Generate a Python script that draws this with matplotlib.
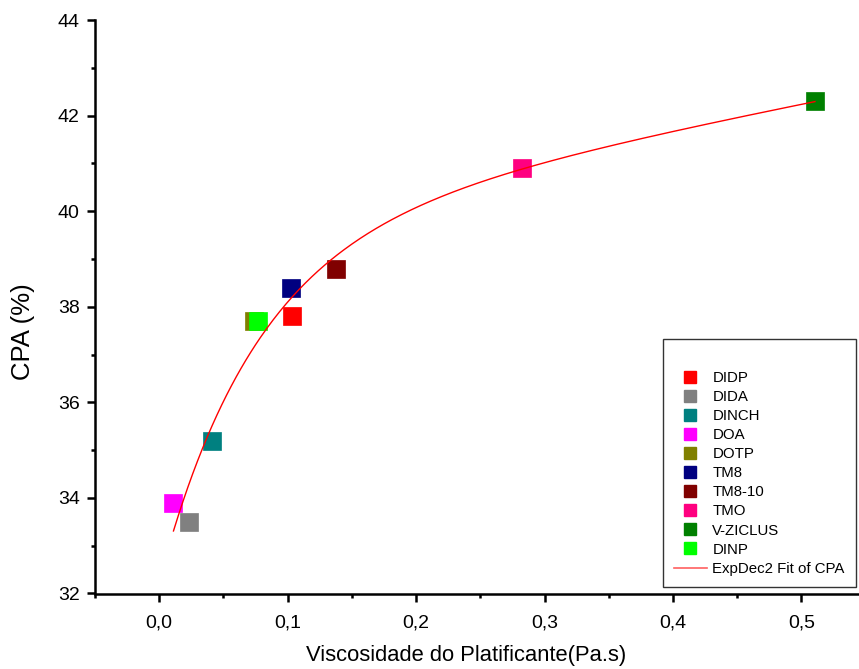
import numpy as np
import matplotlib
matplotlib.use("Agg")
import matplotlib.pyplot as plt
from matplotlib.lines import Line2D
from matplotlib.ticker import MultipleLocator, FuncFormatter

plt.rcParams['font.family'] = ['Liberation Sans', 'DejaVu Sans']

# Plasticizer data: viscosity (Pa.s) and CPA (%)
names = ["DIDP", "DIDA", "DINCH", "DOA", "DOTP", "TM8", "TM8-10", "TMO", "V-ZICLUS", "DINP"]
viscosity = [0.1037, 0.0234, 0.0413, 0.0111, 0.0735, 0.1026, 0.1377, 0.2822, 0.5105, 0.0772]
cpa = [37.8, 33.5, 35.2, 33.9, 37.7, 38.4, 38.8, 40.9, 42.3, 37.7]
colors = ["#FF0000", "#808080", "#008080", "#FF00FF", "#808000",
          "#000080", "#800000", "#FF0080", "#008000", "#00FF00"]

x = np.array(viscosity)
y = np.array(cpa)


# ExpDec2 fit: y = y0 + A1*exp(-x/t1) + A2*exp(-x/t2)
def fit_expdec2(x, y, tmin=0.03, tmax=5.0):
    best = None
    grid = np.logspace(np.log10(tmin), np.log10(tmax), 150)
    for i, t1 in enumerate(grid):
        for t2 in grid[i + 1:]:
            M = np.column_stack([np.ones_like(x), np.exp(-x / t1), np.exp(-x / t2)])
            coef, *_ = np.linalg.lstsq(M, y, rcond=None)
            r = np.sum((M @ coef - y) ** 2)
            if best is None or r < best[0]:
                best = (r, coef, t1, t2)
    _, (y0, a1, a2), t1, t2 = best
    return lambda xx: y0 + a1 * np.exp(-xx / t1) + a2 * np.exp(-xx / t2)


model = fit_expdec2(x, y)
xf = np.linspace(x.min(), x.max(), 400)
yf = model(xf)

W, H = 859, 669
fig = plt.figure(figsize=(W / 100, H / 100), dpi=100)
ax = fig.add_axes([95 / W, 1 - 593.5 / H, 1 - 95 / W, (593.5 - 20) / H])

handles = []
for n, xv, yv, c in zip(names, viscosity, cpa, colors):
    ax.plot([xv], [yv], linestyle="none", marker="s", markersize=13,
            markerfacecolor=c, markeredgecolor=c, markeredgewidth=0.5, zorder=3)
    handles.append(Line2D([], [], linestyle="none", marker="s", markersize=9,
                          markerfacecolor=c, markeredgecolor=c, label=n))

ax.plot(xf, yf, color="#FF0000", linewidth=1.0, zorder=4)
handles.append(Line2D([], [], color="#FF6060", linewidth=1.2, label="ExpDec2 Fit of CPA"))

ax.set_xlim(-0.05, (W - 160) / 1283)
ax.set_ylim(32, 44)

for s in ["top", "right"]:
    ax.spines[s].set_visible(False)
for s in ["left", "bottom"]:
    ax.spines[s].set_linewidth(1.8)

ax.xaxis.set_major_locator(MultipleLocator(0.1))
ax.xaxis.set_minor_locator(MultipleLocator(0.05))
ax.yaxis.set_major_locator(MultipleLocator(2))
ax.yaxis.set_minor_locator(MultipleLocator(1))
ax.xaxis.set_major_formatter(FuncFormatter(lambda v, p: f"{abs(v) if abs(v) < 1e-9 else v:.1f}".replace(".", ",")))
ax.yaxis.set_major_formatter(FuncFormatter(lambda v, p: f"{v:.0f}"))

ax.tick_params(which="major", direction="out", length=6, width=1.8, labelsize=14)
ax.tick_params(which="minor", direction="out", length=3, width=1.8)
ax.tick_params(axis="x", which="major", pad=9)
ax.tick_params(axis="y", which="major", pad=5)

fig.text(466 / W, 1 - 655 / H, "Viscosidade do Platificante(Pa.s)", fontsize=15.8,
         ha="center", va="center")
fig.text(23 / W, 1 - 332 / H, "CPA (%)", fontsize=18.5, rotation=90,
         ha="center", va="center")

leg = ax.legend(handles=handles, loc="lower right",
                bbox_to_anchor=(856 / W, 1 - 587 / H), bbox_transform=fig.transFigure,
                title=" ", title_fontsize=12.5, fontsize=10.8, frameon=True, fancybox=False,
                edgecolor="#333333", framealpha=1, borderpad=0.75, labelspacing=0.34,
                handlelength=2.2, handletextpad=0.36, borderaxespad=0)
leg.get_frame().set_linewidth(1.0)

fig.savefig("out.png", dpi=100)
